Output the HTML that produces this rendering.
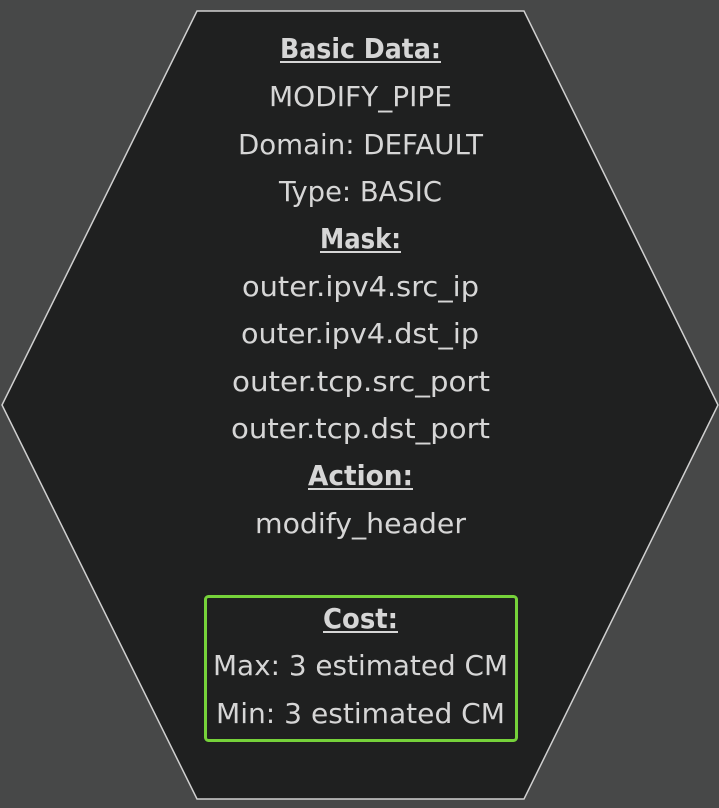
<!DOCTYPE html>
<html><head><meta charset="utf-8"><style>
html,body{margin:0;padding:0;background:#474848;}
svg{display:block}
text{font-family:"DejaVu Sans","Liberation Sans",sans-serif;font-size:28px;fill:#d6d6d6;text-anchor:middle;}
.h{font-weight:bold;}
</style></head><body>
<svg width="719" height="808" viewBox="0 0 719 808">
<rect width="719" height="808" fill="#474848"/>
<polygon points="197,11 524,11 718,405 524,799 197,799 2,405" fill="#1f2020" stroke="#d0d0d0" stroke-width="1.5"/>
<rect x="205.5" y="596.5" width="311" height="144" rx="3" fill="none" stroke="#76d23a" stroke-width="3"/>
<g stroke="#d6d6d6" stroke-width="2">
<line x1="280" y1="62" x2="441" y2="62"/>
<line x1="320" y1="252" x2="401" y2="252"/>
<line x1="308" y1="489" x2="413" y2="489"/>
<line x1="323" y1="632" x2="398" y2="632"/>
</g>
<g>
<text class="h" x="360.5" y="58" textLength="161" lengthAdjust="spacingAndGlyphs">Basic Data:</text>
<text x="360.5" y="106" textLength="183" lengthAdjust="spacingAndGlyphs">MODIFY_PIPE</text>
<text x="360.5" y="154" textLength="245" lengthAdjust="spacingAndGlyphs">Domain: DEFAULT</text>
<text x="360.5" y="201" textLength="163" lengthAdjust="spacingAndGlyphs">Type: BASIC</text>
<text class="h" x="360.5" y="248" textLength="81" lengthAdjust="spacingAndGlyphs">Mask:</text>
<text x="360.5" y="296" textLength="237" lengthAdjust="spacingAndGlyphs">outer.ipv4.src_ip</text>
<text x="360" y="343" textLength="238" lengthAdjust="spacingAndGlyphs">outer.ipv4.dst_ip</text>
<text x="361" y="391" textLength="258" lengthAdjust="spacingAndGlyphs">outer.tcp.src_port</text>
<text x="360.5" y="438" textLength="259" lengthAdjust="spacingAndGlyphs">outer.tcp.dst_port</text>
<text class="h" x="360.5" y="485" textLength="105" lengthAdjust="spacingAndGlyphs">Action:</text>
<text x="360.5" y="533" textLength="211" lengthAdjust="spacingAndGlyphs">modify_header</text>
<text class="h" x="360.5" y="628" textLength="75" lengthAdjust="spacingAndGlyphs">Cost:</text>
<text x="360.5" y="675" textLength="295" lengthAdjust="spacingAndGlyphs">Max: 3 estimated CM</text>
<text x="360.5" y="723" textLength="289" lengthAdjust="spacingAndGlyphs">Min: 3 estimated CM</text>
</g>
</svg>
</body></html>
